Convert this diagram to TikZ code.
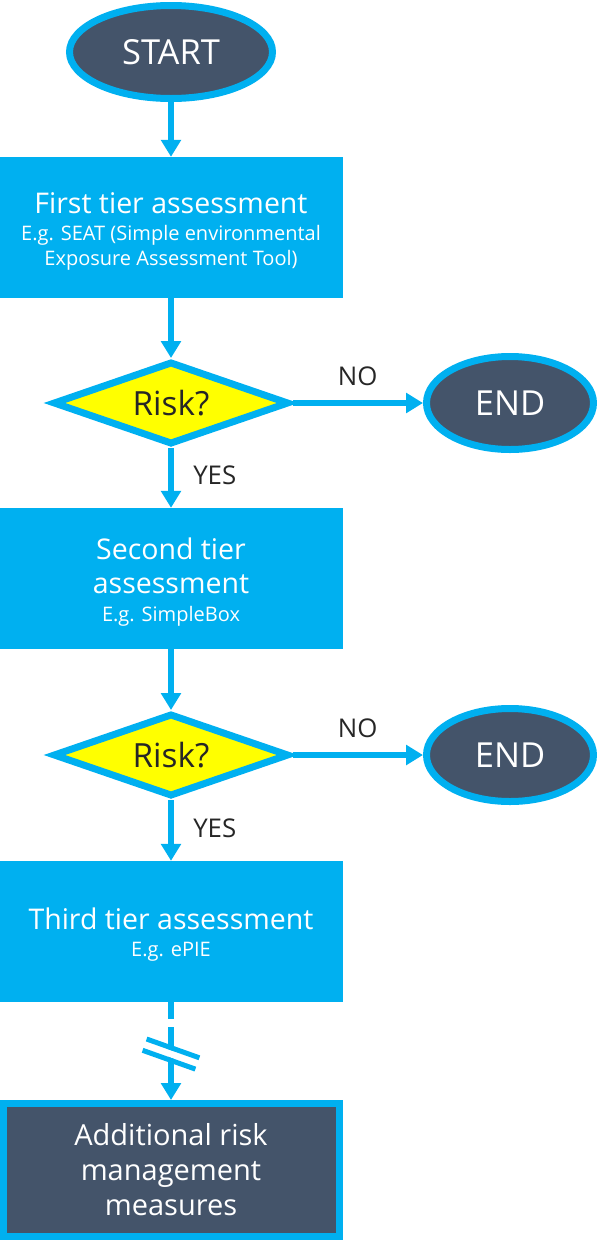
\documentclass[tikz,border=0pt]{standalone}
\usepackage{fontspec}
\setmainfont{Open Sans}
\usepackage{xcolor,tikz}
\usetikzlibrary{arrows.meta,shapes.geometric}
\definecolor{sky}{HTML}{00B0F0}
\definecolor{slate}{HTML}{44546A}
\definecolor{caution}{HTML}{FFFF00}
\definecolor{ink}{HTML}{262626}
\newcommand{\headfont}{\fontsize{28.5}{25}\selectfont}
\newcommand{\tierstrut}{\rule{0pt}{28.5pt}}
\begin{document}
\begin{tikzpicture}[x=1pt,y=-1pt,>={Triangle[length=17pt,width=19.5pt]},
  terminal/.style={ellipse,draw=sky,line width=7pt,fill=slate,text=white,inner sep=0pt,minimum width=#1,minimum height=93pt,font=\fontsize{34.5}{34.5}\selectfont},
  tierbox/.style={rectangle,fill=sky,text=white,inner sep=0pt,minimum width=343pt,minimum height=141pt,align=center,font=\fontsize{20}{25}\selectfont},
  decision/.style={diamond,aspect=3,draw=sky,line width=7pt,fill=caution,text=ink,inner sep=0pt,minimum width=236pt,minimum height=83pt,font=\fontsize{33.3}{33.3}\selectfont},
  measurebox/.style={rectangle,draw=sky,line width=7pt,fill=slate,text=white,inner sep=0pt,minimum width=336pt,minimum height=133pt,align=center,font=\fontsize{29}{35}\selectfont},
  flow/.style={->,draw=sky,line width=6.5pt},
  answer/.style={text=ink,inner sep=0pt,font=\fontsize{25.8}{25.8}\selectfont}]
\useasboundingbox (0,0) rectangle (597,1243);
\node[terminal=203pt] (start) at (171,52) {START};
\node[tierbox] (tier1) at (171,227.5) {{\headfont\tierstrut First tier assessment}\\[2pt]E.g. SEAT (Simple environmental\\Exposure Assessment Tool)};
\node[decision] (risk1) at (171,403) {Risk?};
\node[terminal=167pt] (end1) at (510,403) {END};
\node[tierbox] (tier2) at (171,578.5) {{\headfont\tierstrut Second tier}\\[9pt]{\headfont assessment}\\[3pt]E.g. SimpleBox};
\node[decision] (risk2) at (171,755) {Risk?};
\node[terminal=167pt] (end2) at (510,755) {END};
\node[tierbox] (tier3) at (171,931.5) {{\headfont\tierstrut Third tier assessment}\\[2pt]E.g. ePIE};
\node[measurebox] (measures) at (171,1170) {Additional risk\\management\\measures};
\draw[flow] (start) -- (tier1);
\draw[flow] (tier1) -- (risk1);
\draw[flow] (risk1) -- node[answer,midway,above=14pt] (no1) {NO} (end1);
\draw[flow] (risk1) -- node[answer,midway,right=19pt,yshift=2.5pt] (yes1) {YES} (tier2);
\draw[flow] (tier2) -- (risk2);
\draw[flow] (risk2) -- node[answer,midway,above=14pt] (no2) {NO} (end2);
\draw[flow] (risk2) -- node[answer,midway,right=19pt,yshift=2.5pt] (yes2) {YES} (tier3);
\coordinate (cut1) at (171,1019);
\coordinate (cut2) at (171,1027);
\coordinate (brk) at (171,1054);
\draw[sky,line width=6.5pt] (tier3) -- (cut1);
\draw[flow] (cut2) -- (measures);
\draw[white,line width=7pt] (brk) ++(-26.4,-9.4) -- ++(52.8,18.8);
\draw[sky,line width=5pt] (brk) ++(-24.4,-15) -- ++(52.8,18.8);
\draw[sky,line width=5pt] (brk) ++(-28.4,-3.7) -- ++(52.8,18.8);
\end{tikzpicture}
\end{document}
